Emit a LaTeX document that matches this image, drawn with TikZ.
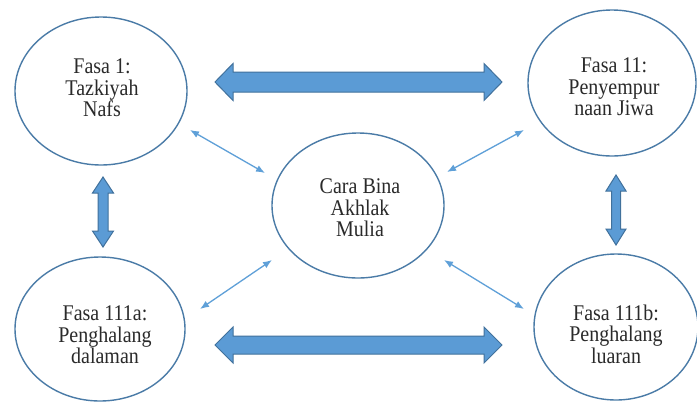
\documentclass[tikz,border=0pt]{standalone}
\usepackage{fontspec}
\setmainfont{Liberation Serif}
\usetikzlibrary{shapes.geometric,arrows.meta}
\definecolor{ringblue}{HTML}{4A7BA7}
\definecolor{fillblue}{HTML}{5B9BD5}
\definecolor{edgeblue}{HTML}{41719C}
\definecolor{thinblue}{HTML}{5FA0D8}
\definecolor{txt}{HTML}{2A2A2A}
\tikzset{
  phase/.style={ellipse, draw=ringblue, line width=1.4bp, inner sep=0pt},
  label text/.style={align=center, text=txt, font=\fontsize{20bp}{19.2bp}\selectfont, inner sep=0pt, yscale=1.12, transform shape},
  blockarrow/.style={fill=fillblue, draw=edgeblue, line width=1bp, line join=miter},
  thinlink/.style={draw=thinblue, line width=1.3bp, {Latex[length=9bp,width=7bp]}-{Latex[length=9bp,width=7bp]}}
}
\begin{document}
\begin{tikzpicture}[x=1bp,y=-1bp]
\useasboundingbox (0,0) rectangle (697,401);
\fill[white] (0,0) rectangle (697,401);
\begin{scope}
\clip (0,0) rectangle (697,401);
% ellipses
\node[phase, minimum width=172bp, minimum height=148bp] (tl) at (101,91) {};
\node[phase, minimum width=168bp, minimum height=146bp] (tr) at (612,83) {};
\node[phase, minimum width=172bp, minimum height=145bp] (c)  at (358,205.5) {};
\node[phase, minimum width=170bp, minimum height=144bp] (bl) at (100,329) {};
\node[phase, minimum width=164bp, minimum height=146bp] (br) at (616,327) {};
\end{scope}
% texts
\node[label text] (tlt) at (102,88) {Fasa 1:\\Tazkiyah\\Nafs};
\node[label text] (trt) at (614,87) {Fasa 11:\\Penyempur\\naan Jiwa};
\node[label text] (ct)  at (360,208) {Cara Bina\\Akhlak\\Mulia};
\node[label text] (blt) at (105,335) {Fasa 111a:\\Penghalang\\dalaman};
\node[label text] (brt) at (616,334) {Fasa 111b:\\Penghalang\\luaran};
% block arrows (horizontal)
\draw[blockarrow] (215,82) -- (233,63.5) -- (233,72) -- (484,72) -- (484,63.5) -- (502,82)
  -- (484,100.5) -- (484,92) -- (233,92) -- (233,100.5) -- cycle;
\draw[blockarrow] (215,345) -- (233,327) -- (233,336) -- (484,336) -- (484,327) -- (502,345)
  -- (484,363) -- (484,354) -- (233,354) -- (233,363) -- cycle;
% block arrows (vertical)
\draw[blockarrow] (103,177) -- (113.5,193) -- (108,193) -- (108,231) -- (113.5,231) -- (103,247)
  -- (92.5,231) -- (98,231) -- (98,193) -- (92.5,193) -- cycle;
\draw[blockarrow] (616,175) -- (626,191) -- (620.5,191) -- (620.5,229) -- (626,229) -- (616,245)
  -- (606,229) -- (611.5,229) -- (611.5,191) -- (606,191) -- cycle;
% thin double arrows
\coordinate (a1) at (190,130); \coordinate (a2) at (265,173);
\coordinate (b1) at (447,172); \coordinate (b2) at (524,130);
\coordinate (c1) at (200,309); \coordinate (c2) at (272,260);
\coordinate (d1) at (444,260); \coordinate (d2) at (524,309);
\draw[thinlink] (a1) -- (a2);
\draw[thinlink] (b1) -- (b2);
\draw[thinlink] (c1) -- (c2);
\draw[thinlink] (d1) -- (d2);
\end{tikzpicture}
\end{document}
